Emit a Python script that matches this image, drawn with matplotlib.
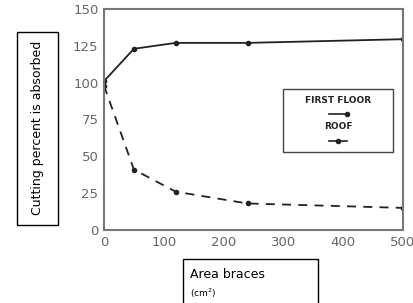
import matplotlib
matplotlib.use('Agg')
import matplotlib.pyplot as plt
from matplotlib.lines import Line2D

# data
area = [0, 50, 120, 240, 500]
first_floor = [101, 123, 127, 127, 129.5]
roof = [98, 41, 26, 18, 15]
xticks = [0, 100, 200, 300, 400, 500]
yticks = [0, 25, 50, 75, 100, 125, 150]

W, H = 414, 303
fig = plt.figure(figsize=(W/100, H/100), dpi=100)
ax = fig.add_axes([104/W, 1-230/H, (403-104)/W, (230-9)/H])

ax.plot(area, first_floor, '-', color='#222222', lw=1.3, marker='o', ms=3)
ax.plot(area, roof, '--', color='#222222', lw=1.3, marker='o', ms=3,
        dashes=(5, 4))

ax.set_xlim(0, 500)
ax.set_ylim(0, 150)
ax.set_xticks(xticks)
ax.set_yticks(yticks)
ax.tick_params(direction='in', length=0, labelsize=9.5, labelcolor='#666666', pad=4)
for s in ax.spines.values():
    s.set_color('#777777')
    s.set_linewidth(1.5)

# legend box drawn by hand in axes coords
lx0, ly0 = (283-104)/(403-104), 1-(152-9)/(230-9)
lw_, lh = (393-283)/(403-104), (152-89)/(230-9)
ax.add_patch(plt.Rectangle((lx0, ly0), lw_, lh, transform=ax.transAxes,
                           fill=False, ec='#444444', lw=1))
cx = lx0 + lw_/2
ax.text(cx, ly0+lh*0.82, 'FIRST FLOOR', transform=ax.transAxes, ha='center',
        va='center', fontsize=6.5, fontweight='bold', color='#222222')
ax.add_line(Line2D([cx-0.03, cx+0.03], [ly0+lh*0.6]*2, transform=ax.transAxes,
                   color='#222222', lw=1.2, marker='o', ms=3, markevery=[1]))
ax.text(cx, ly0+lh*0.4, 'ROOF', transform=ax.transAxes, ha='center',
        va='center', fontsize=6.5, fontweight='bold', color='#222222')
ax.add_line(Line2D([cx-0.03, cx, cx+0.03], [ly0+lh*0.17]*3, transform=ax.transAxes,
                   color='#222222', lw=1.2, marker='o', ms=3, markevery=[1]))

# y label box
fig.patches.append(plt.Rectangle((17/W, 1-225/H), 41/W, 193/H, transform=fig.transFigure,
                                 fill=False, ec='black', lw=1))
fig.text(37.5/W, 1-128/H, 'Cutting percent is absorbed', rotation=90,
         ha='center', va='center', fontsize=9)

# x label box
fig.patches.append(plt.Rectangle((183/W, 1-305/H), 135/W, 46/H, transform=fig.transFigure,
                                 fill=False, ec='black', lw=1))
fig.text(190/W, 1-274/H, 'Area braces', ha='left', va='center', fontsize=9)
fig.text(190/W, 1-293/H, '(cm$^2$)', ha='left', va='center', fontsize=6.5)

fig.savefig('out.png', dpi=100)
